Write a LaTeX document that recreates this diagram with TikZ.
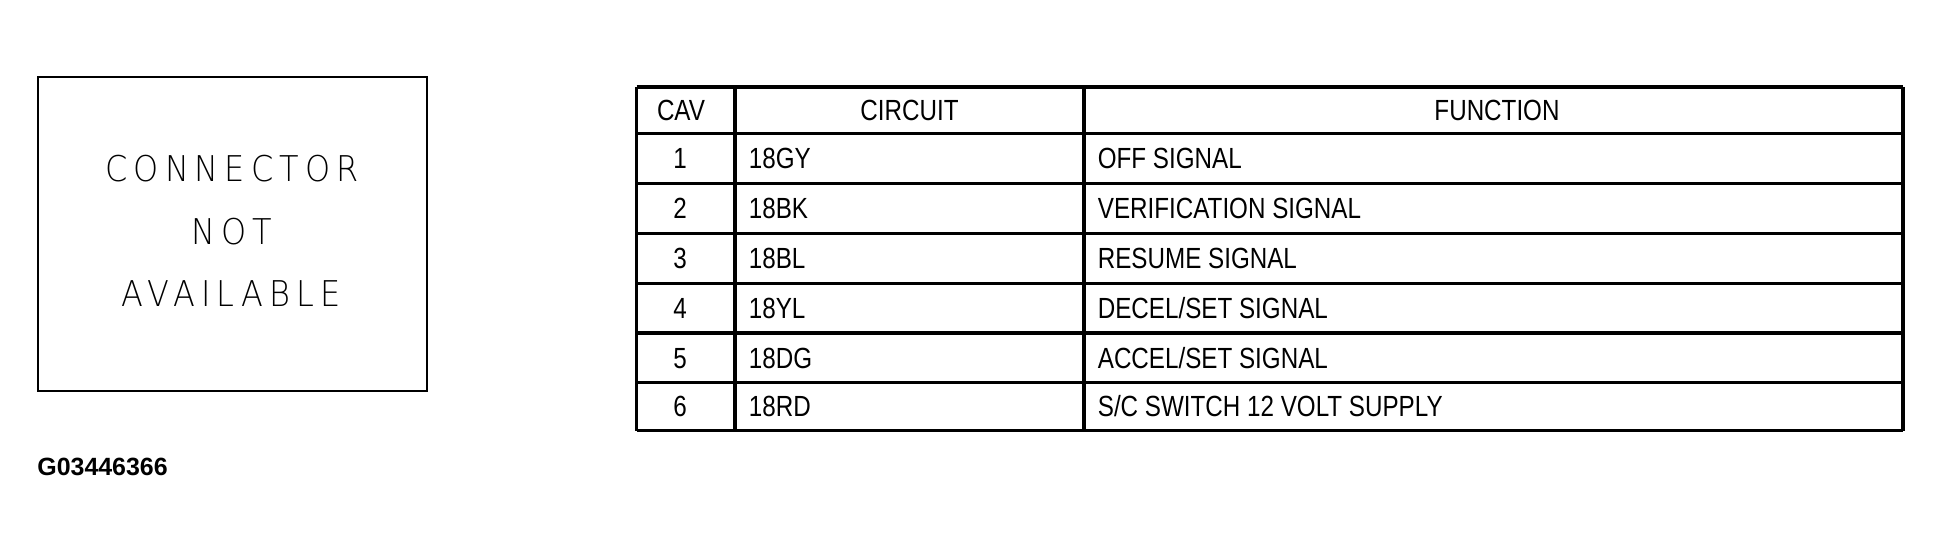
\documentclass[tikz,border=0pt]{standalone}
\usepackage{fontspec}
\usepackage{tikz}
\usetikzlibrary{positioning, calc}
\setmainfont{Liberation Sans}
\newfontfamily\tablefont[FakeStretch=0.83]{Liberation Sans}
\newfontfamily\boxfont[FakeStretch=0.9, LetterSpace=17]{DejaVu Sans ExtraLight}

\begin{document}
\begin{tikzpicture}[x=0.02cm, y=-0.02cm,
		box line/.style = {line width=1.3pt},
		grid line/.style = {line width=1.9pt},
		cell/.style = {font=\tablefont\fontsize{16.6}{18}\selectfont,
					inner sep=0pt, text height=11.9pt, text depth=0pt},
		big text/.style = {font=\boxfont\fontsize{20.2}{24}\selectfont,
					inner sep=0pt, text height=14.7pt, text depth=0pt}
                   ]

%Page size
    \useasboundingbox (0,0) rectangle (1941,551);

%Connector box
    \draw[box line] (38,77) rectangle (427,391);
    \node[big text] (con) at (232,169) {CONNECTOR};
    \node[big text] (not) at (232,232) {NOT};
    \node[big text] (ava) at (231,294) {AVAILABLE};

%Figure number
    \node[anchor=west, inner sep=0pt, text height=10.2pt, text depth=0pt,
          font=\bfseries\fontsize{14.2}{16}\selectfont] (fig) at (37,467) {G03446366};

%Table grid
    \foreach \y in {87,133.5,183.5,233.5,283.5,333,382.5,430.5}
	{
		\draw[grid line] (636.5,\y) -- (1903,\y);
	}
    \foreach \x in {636.5,735,1084,1903}
	{
		\draw[grid line] (\x,87) -- (\x,430.5);
	}

%Header
    \node[cell] (cavhead) at (681,110) {CAV};
    \node[cell] (circhead) at (909.5,110) {CIRCUIT};
    \node[cell] (funchead) at (1497,110) {FUNCTION};

%Rows
    \foreach \n/\yc/\c/\f in {1/158.5/18GY/{OFF SIGNAL},
                              2/208/18BK/{VERIFICATION SIGNAL},
                              3/258.5/18BL/{RESUME SIGNAL},
                              4/308.3/18YL/{DECEL/SET SIGNAL},
                              5/357.8/18DG/{ACCEL/SET SIGNAL},
                              6/406.5/18RD/{S/C SWITCH 12 VOLT SUPPLY}}
	{
		\node[cell] (cav\n) at (680,\yc) {\n};
		\node[cell, anchor=west] (circ\n) at (748.5,\yc) {\c};
		\node[cell, anchor=west] (func\n) at (1097.5,\yc) {\f};
	}

\end{tikzpicture}
\end{document}
